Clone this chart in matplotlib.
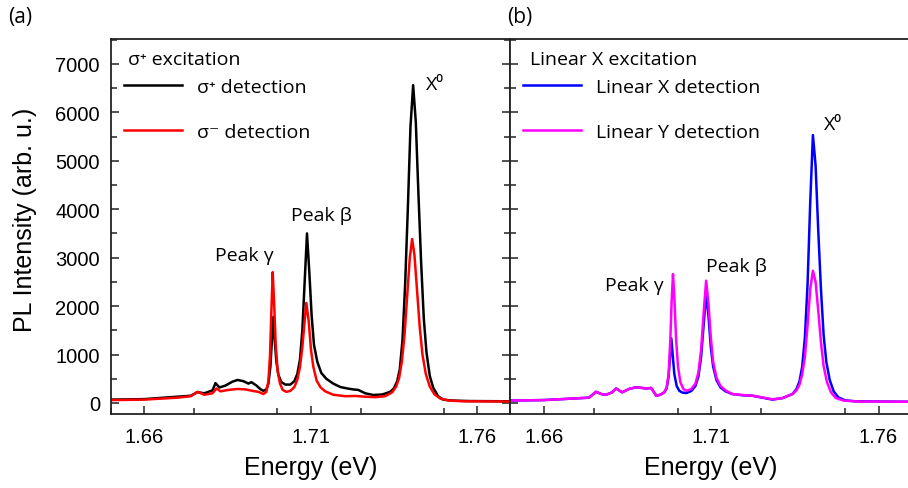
import matplotlib
matplotlib.use("Agg")
import matplotlib.pyplot as plt
from matplotlib.ticker import MultipleLocator

# ---------------- data ----------------
# panel (a): sigma+ excitation, sigma+ detection
e_sp = [1.6502, 1.6600, 1.6700, 1.6740, 1.6760, 1.6780, 1.6805, 1.6814, 1.6826, 1.6844,
        1.6865, 1.6880, 1.6898, 1.6913, 1.6922, 1.6937, 1.6950, 1.6958, 1.6967, 1.6973,
        1.6979, 1.6984, 1.6988, 1.6992, 1.6997, 1.7003, 1.7012, 1.7024, 1.7039, 1.7051,
        1.7060, 1.7068, 1.7075, 1.7082, 1.7089, 1.7096, 1.7103, 1.7110, 1.7120, 1.7132,
        1.7147, 1.7168, 1.7189, 1.7210, 1.7228, 1.7243, 1.7264, 1.7288, 1.7315, 1.7339,
        1.7350, 1.7360, 1.7368, 1.7376, 1.7384, 1.7392, 1.7400, 1.7408, 1.7416, 1.7424,
        1.7432, 1.7440, 1.7448, 1.7458, 1.7468, 1.7483, 1.7498, 1.7524, 1.7578, 1.7698]
i_sp = [70, 80, 130, 150, 225, 200, 260, 410, 320, 360,
        440, 475, 450, 400, 430, 360, 280, 250, 280, 400,
        750, 1350, 1775, 1300, 850, 580, 430, 380, 380, 450,
        600, 900, 1500, 2500, 3500, 2700, 1800, 1200, 850, 620,
        500, 400, 330, 300, 280, 270, 200, 165, 175, 230,
        300, 450, 700, 1300, 2450, 4000, 5700, 6560, 5800, 4300,
        2900, 1750, 1050, 560, 320, 140, 70, 50, 40, 35]

# panel (a): sigma+ excitation, sigma- detection
e_sm = [1.6502, 1.6600, 1.6700, 1.6740, 1.6760, 1.6780, 1.6805, 1.6817, 1.6829, 1.6853,
        1.6880, 1.6904, 1.6925, 1.6943, 1.6958, 1.6967, 1.6973, 1.6978, 1.6982, 1.6986,
        1.6990, 1.6995, 1.7001, 1.7008, 1.7016, 1.7027, 1.7039, 1.7051, 1.7060, 1.7068,
        1.7075, 1.7082, 1.7087, 1.7094, 1.7101, 1.7108, 1.7118, 1.7130, 1.7144, 1.7168,
        1.7204, 1.7234, 1.7264, 1.7294, 1.7324, 1.7345, 1.7357, 1.7366, 1.7374, 1.7382,
        1.7390, 1.7398, 1.7405, 1.7412, 1.7420, 1.7428, 1.7436, 1.7446, 1.7458, 1.7472,
        1.7490, 1.7515, 1.7560, 1.7698]
i_sm = [60, 70, 110, 140, 230, 170, 200, 300, 240, 270,
        290, 280, 250, 230, 185, 230, 450, 1000, 1900, 2700,
        2100, 1200, 650, 400, 270, 230, 250, 330, 480, 750,
        1150, 1700, 2065, 1700, 1100, 750, 460, 320, 240, 170,
        140, 145, 130, 120, 140, 220, 340, 520, 850, 1400,
        2200, 3000, 3385, 3050, 2300, 1550, 1000, 600, 340, 180,
        90, 50, 35, 30]

# panel (b): linear X excitation, linear X detection
e_lx = [1.6495, 1.6600, 1.6696, 1.6735, 1.6756, 1.6774, 1.6786, 1.6804, 1.6816, 1.6834,
        1.6855, 1.6876, 1.6906, 1.6921, 1.6936, 1.6948, 1.6960, 1.6967, 1.6973, 1.6977,
        1.6981, 1.6985, 1.6990, 1.6997, 1.7005, 1.7014, 1.7026, 1.7041, 1.7053, 1.7062,
        1.7070, 1.7078, 1.7085, 1.7092, 1.7099, 1.7106, 1.7116, 1.7128, 1.7143, 1.7163,
        1.7193, 1.7223, 1.7253, 1.7283, 1.7313, 1.7343, 1.7355, 1.7364, 1.7372, 1.7380,
        1.7388, 1.7396, 1.7404, 1.7412, 1.7420, 1.7428, 1.7436, 1.7444, 1.7454, 1.7466,
        1.7480, 1.7500, 1.7530, 1.7694]
i_lx = [50, 60, 95, 110, 230, 180, 170, 220, 300, 220,
        290, 325, 300, 310, 150, 170, 220, 300, 550, 950,
        1335, 1000, 600, 350, 250, 215, 205, 250, 350, 550,
        950, 1650, 2250, 1800, 1150, 750, 470, 320, 240, 185,
        160, 150, 110, 70, 100, 185, 290, 450, 750, 1350,
        2450, 4150, 5530, 4900, 3550, 2350, 1400, 850, 480, 240,
        115, 55, 35, 25]

# panel (b): linear X excitation, linear Y detection
e_ly = [1.6495, 1.6600, 1.6696, 1.6735, 1.6756, 1.6774, 1.6786, 1.6804, 1.6816, 1.6834,
        1.6855, 1.6876, 1.6906, 1.6921, 1.6936, 1.6948, 1.6960, 1.6967, 1.6973, 1.6978,
        1.6982, 1.6986, 1.6990, 1.6995, 1.7001, 1.7008, 1.7017, 1.7026, 1.7041, 1.7053,
        1.7062, 1.7070, 1.7078, 1.7085, 1.7092, 1.7099, 1.7106, 1.7116, 1.7128, 1.7143,
        1.7163, 1.7193, 1.7223, 1.7253, 1.7283, 1.7313, 1.7343, 1.7355, 1.7364, 1.7372,
        1.7380, 1.7388, 1.7396, 1.7404, 1.7412, 1.7420, 1.7428, 1.7436, 1.7446, 1.7458,
        1.7472, 1.7495, 1.7540, 1.7694]
i_ly = [50, 60, 95, 110, 230, 180, 170, 220, 300, 220,
        290, 325, 300, 310, 150, 170, 220, 320, 600, 1300,
        2100, 2660, 2200, 1350, 750, 430, 290, 250, 290, 400,
        630, 1100, 1900, 2525, 2050, 1350, 850, 520, 350, 260,
        185, 165, 150, 115, 75, 100, 185, 260, 380, 590,
        950, 1600, 2350, 2730, 2500, 1900, 1250, 760, 430, 220,
        105, 50, 30, 25]

xticks = [1.66, 1.71, 1.76]
yticks = [0, 1000, 2000, 3000, 4000, 5000, 6000, 7000]

# ---------------- figure ----------------
W, H = 908, 489
fig = plt.figure(figsize=(W / 100, H / 100), dpi=100)

x0, x1, x2 = 111, 510.3, 912
yb, yt = 414.5, 40
ax1 = fig.add_axes([x0 / W, 1 - yb / H, (x1 - x0) / W, (yb - yt) / H])
ax2 = fig.add_axes([x1 / W, 1 - yb / H, (x2 - x1) / W, (yb - yt) / H])

tick_font = dict(family=['Liberation Sans', 'DejaVu Sans'], size=14.5)
lab_font = dict(family=['Liberation Sans', 'DejaVu Sans'], size=18)
ann_font = ['Open Sans', 'DejaVu Sans']
ann_size = 14

lw = 1.8
ax1.plot(e_sp, i_sp, color='black', lw=lw, label='σ⁺ detection')
ax1.plot(e_sm, i_sm, color='red', lw=lw, label='σ⁻ detection')
ax2.plot(e_lx, i_lx, color='blue', lw=lw, label='Linear X detection')
ax2.plot(e_ly, i_ly, color='magenta', lw=lw, label='Linear Y detection')

for ax in (ax1, ax2):
    ax.set_xlim(1.65, 1.77)
    ax.set_ylim(-217, 7513)
    ax.set_xticks(xticks)
    ax.xaxis.set_minor_locator(MultipleLocator(0.025))
    ax.set_yticks(yticks)
    ax.yaxis.set_minor_locator(MultipleLocator(500))
    ax.tick_params(axis='both', which='major', direction='in', length=6, width=1.1, color='#222222')
    ax.tick_params(axis='both', which='minor', direction='in', length=4, width=1.1, color='#222222')
    ax.tick_params(axis='x', which='both', top=False, pad=10)
    for s in ax.spines.values():
        s.set_linewidth(1.3)
        s.set_color('#222222')
    ax.set_xticklabels([f"{v:.2f}" for v in xticks], **tick_font)
    ax.set_xlabel('Energy (eV)', **lab_font)
    ax.xaxis.set_label_coords(0.5, -0.11)

ax1.tick_params(axis='y', which='both', left=True, right=True, pad=8)
ax1.set_yticklabels([str(v) for v in yticks], **tick_font)
ax1.set_ylabel('PL Intensity (arb. u.)', **lab_font)
ax1.yaxis.set_label_coords(-0.185, 0.52)
ax2.tick_params(axis='y', which='both', left=True, right=False, labelleft=False)

# legends (title drawn as separate text)
leg_kw = dict(loc='upper left', frameon=False, handlelength=3.0, handletextpad=0.75,
              labelspacing=1.42, borderpad=0, borderaxespad=0,
              prop=dict(family=ann_font, size=ann_size))
ax1.legend(bbox_to_anchor=(0.0326, 0.897), **leg_kw)
ax2.legend(bbox_to_anchor=(0.0316, 0.897), **leg_kw)
ax1.text(0.0426, 0.9466, 'σ⁺ excitation', transform=ax1.transAxes, ha='left', va='center',
         family=ann_font, size=ann_size)
ax2.text(0.049, 0.9466, 'Linear X excitation', transform=ax2.transAxes, ha='left', va='center',
         family=ann_font, size=ann_size)

# annotations
ax1.text(1.6901, 3055, 'Peak γ', ha='center', va='center', family=ann_font, size=ann_size)
ax1.text(1.7132, 3880, 'Peak β', ha='center', va='center', family=ann_font, size=ann_size)
ax1.text(1.7473, 6584, 'X⁰', ha='center', va='center', family=ann_font, size=ann_size)
ax2.text(1.6870, 2435, 'Peak γ', ha='center', va='center', family=ann_font, size=ann_size)
ax2.text(1.7175, 2828, 'Peak β', ha='center', va='center', family=ann_font, size=ann_size)
ax2.text(1.7463, 5758, 'X⁰', ha='center', va='center', family=ann_font, size=ann_size)

fig.text(20 / W, 1 - 17 / H, '(a)', ha='center', va='center', family=ann_font, size=15)
fig.text(520 / W, 1 - 17 / H, '(b)', ha='center', va='center', family=ann_font, size=15)

fig.savefig('out.png', dpi=100)
